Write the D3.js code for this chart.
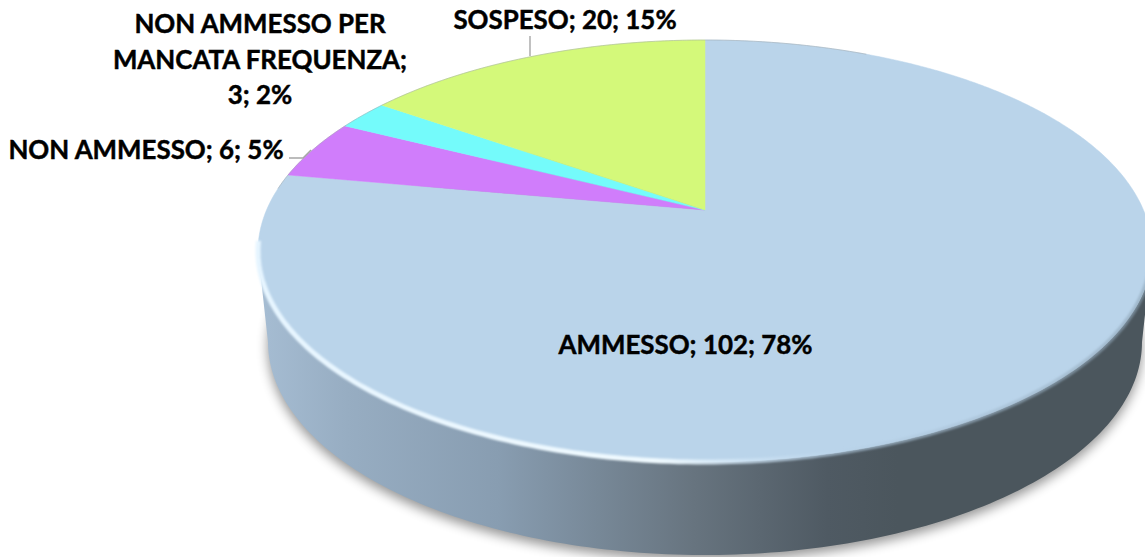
<!DOCTYPE html>
<html>
<head>
<meta charset="utf-8">
<script src="https://cdn.jsdelivr.net/npm/d3@7/dist/d3.min.js"></script>
<style>
html,body{margin:0;padding:0;background:#fff;overflow:hidden}
svg{display:block}
text{font-family:Lato,"Open Sans",sans-serif;font-weight:700;fill:#000;stroke:#000;stroke-width:0.45px}
</style>
</head>
<body>
<svg id="chart" width="1145" height="557"></svg>
<script>
const categories = ["AMMESSO", "NON AMMESSO", "NON AMMESSO PER MANCATA FREQUENZA", "SOSPESO"];
const values = [102, 6, 3, 20];
const colors = ["#bad4ea", "#d07dfb", "#74fbfb", "#d4f97a"];

const svg = d3.select("#chart");
const total = d3.sum(values);

// Page geometry of the tilted disc
const topX = d3.scaleLinear().domain([-1, 1]).range([258, 1152]);
const topY = d3.scaleLinear().domain([-1, 1]).range([40, 462]);
const baseX = d3.scaleLinear().domain([-1, 1]).range([268, 1142]);
const baseY = d3.scaleLinear().domain([-1, 1]).range([129, 555]);
const tilt = -0.194; // apex offset that the perspective view gives

// Perspective: circle angle (clockwise from 12 o'clock) to disc coords
function project(a) {
  const u = Math.sin(a), v = -Math.cos(a);
  const w = 1 + tilt * v;
  return [u * Math.sqrt(1 - tilt * tilt) / w, (v + tilt) / w];
}
const apex = [0, tilt];
const line = d3.line().x(p => topX(p[0])).y(p => topY(p[1]));
const lineBase = d3.line().x(p => baseX(p[0])).y(p => baseY(p[1]));
const unit = a => [Math.cos(a), Math.sin(a)];

const defs = svg.append("defs");
const blur = (id, s) => defs.append("filter").attr("id", id)
  .attr("x", "-10%").attr("y", "-10%").attr("width", "120%").attr("height", "120%")
  .append("feGaussianBlur").attr("stdDeviation", s);
blur("shadow", 6);
blur("soft", 1.3);
blur("edge", 0.7);

const sideStops = [[0, "#a6bdd3"], [0.1, "#97adc2"], [0.27, "#889db1"], [0.49, "#67747f"], [0.64, "#4f5a63"], [0.72, "#4b565d"], [1, "#4b565d"]];
const sideGrad = defs.append("linearGradient").attr("id", "side")
  .attr("gradientUnits", "userSpaceOnUse").attr("x1", 258).attr("x2", 1147).attr("y1", 0).attr("y2", 0);
sideGrad.selectAll("stop").data(sideStops).join("stop")
  .attr("offset", d => d[0]).attr("stop-color", d => d[1]);

const rimStops = [[0, "#e6f5ff", 1], [0.45, "#f0faff", 1], [0.55, "#cfe4f5", 0.8], [0.65, "#bad4ea", 0.6], [1, "#8ea4b6", 0.6]];
const rimGrad = defs.append("linearGradient").attr("id", "rim")
  .attr("gradientUnits", "userSpaceOnUse").attr("x1", 258).attr("x2", 1147).attr("y1", 0).attr("y2", 0);
rimGrad.selectAll("stop").data(rimStops).join("stop")
  .attr("offset", d => d[0]).attr("stop-color", d => d[1]).attr("stop-opacity", d => d[2]);

// Drop shadow
const full = d3.range(0, 2 * Math.PI, 0.02).map(unit);
svg.append("path")
  .attr("d", d3.line().x(p => baseX(p[0])).y(p => baseY(p[1]) + 5).curve(d3.curveLinearClosed)(full))
  .attr("fill", "#000").attr("opacity", 0.42).attr("filter", "url(#shadow)");

// Side wall (front half between the top rim and the base rim)
const front = d3.range(0, Math.PI + 0.001, 0.02).map(unit);
svg.append("path")
  .attr("d", line(front) + "L" + lineBase(front.slice().reverse()).slice(1) + "Z")
  .attr("fill", "url(#side)");

// Slices
const pie = d3.pie().sort(null).value(d => d)(values);
svg.selectAll("path.slice").data(pie).join("path").attr("class", "slice")
  .attr("d", d => {
    const n = Math.max(4, Math.ceil((d.endAngle - d.startAngle) / 0.01));
    const arc = d3.range(n + 1).map(i => project(d.startAngle + (d.endAngle - d.startAngle) * i / n));
    return line([apex, ...arc]) + "Z";
  })
  .attr("fill", (d, i) => colors[i])
  .attr("stroke", (d, i) => colors[i]).attr("stroke-width", 0.5);

// Rim highlight along the near edge
svg.append("path")
  .attr("d", line(d3.range(0.05, Math.PI + 0.06, 0.02).map(unit)))
  .attr("fill", "none").attr("stroke", "url(#rim)").attr("stroke-width", 5)
  .attr("filter", "url(#soft)");

// Fine grey edge on the far side of the disc
svg.append("path")
  .attr("d", line(d3.range(Math.PI + 0.3, 2 * Math.PI - 1.2, 0.02).map(unit)))
  .attr("fill", "none").attr("stroke", "#9aa3a8").attr("stroke-width", 0.8).attr("opacity", 0.6)
  .attr("filter", "url(#edge)");

// Data labels
const pct = i => d3.format(".0%")(values[i] / total);
const labelLines = [
  [`${categories[0]}; ${values[0]}; ${pct(0)}`],
  [`${categories[1]}; ${values[1]}; ${pct(1)}`],
  ["NON AMMESSO PER", "MANCATA FREQUENZA;", `${values[2]}; ${pct(2)}`],
  [`${categories[3]}; ${values[3]}; ${pct(3)}`]
];
const labelAnchors = [[685.5, 354], [146, 159], [260, 33], [565, 29]];
const labelLeading = 35.5;
svg.selectAll("text.label").data(labelLines).join("text").attr("class", "label")
  .attr("text-anchor", "middle").attr("font-size", 25.9)
  .selectAll("tspan").data((d, i) => d.map(t => ({ t, i }))).join("tspan")
  .attr("x", d => labelAnchors[d.i][0])
  .attr("y", (d, j) => labelAnchors[d.i][1] + j * labelLeading)
  .text(d => d.t);

// Leader lines
const leaders = [
  [[289, 158], [303, 158], [311, 150]],
  [[530, 36], [530, 56]]
];
svg.selectAll("path.leader").data(leaders).join("path").attr("class", "leader")
  .attr("d", d3.line()).attr("fill", "none").attr("stroke", "#a6a6a6").attr("stroke-width", 1.4);
</script>
</body>
</html>
